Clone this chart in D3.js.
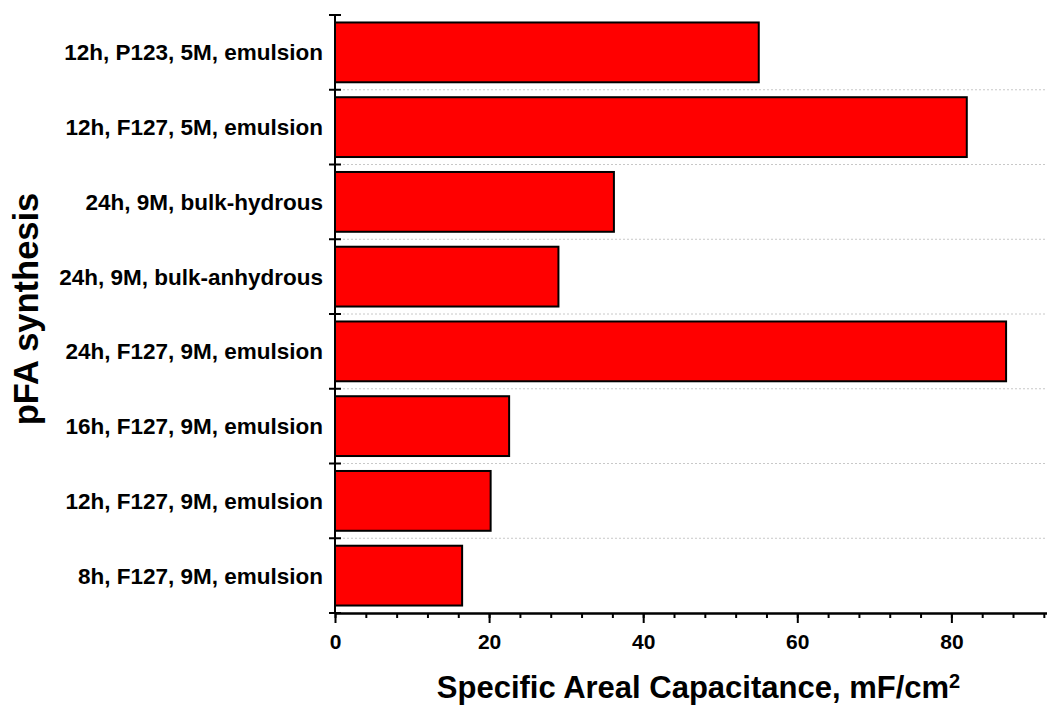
<!DOCTYPE html>
<html>
<head>
<meta charset="utf-8">
<script src="https://cdn.jsdelivr.net/npm/d3@7"></script>
<style>
  html, body { margin: 0; padding: 0; background: #fff; }
  svg { display: block; font-family: "Liberation Sans", Arial, Helvetica, sans-serif; font-weight: bold; }
</style>
</head>
<body>
<svg id="chart" width="1047" height="707"></svg>
<script>
// Synthesis conditions, listed top to bottom
const categories = [
  "12h, P123, 5M, emulsion",
  "12h, F127, 5M, emulsion",
  "24h, 9M, bulk-hydrous",
  "24h, 9M, bulk-anhydrous",
  "24h, F127, 9M, emulsion",
  "16h, F127, 9M, emulsion",
  "12h, F127, 9M, emulsion",
  "8h, F127, 9M, emulsion"
];
// Specific areal capacitance, mF/cm^2
const capacitance = [55.0, 82.0, 36.2, 29.0, 87.1, 22.6, 20.2, 16.5];
const majorTicks = [0, 20, 40, 60, 80];
const minorTicks = d3.range(0, 93, 4);
const xTitle = "Specific Areal Capacitance, mF/cm";
const xTitleSup = "2";
const yTitle = "pFA synthesis";

const svg = d3.select("#chart");
const plotLeft = 335, plotRight = 1050, plotTop = 15, plotBottom = 613;

const x = d3.scaleLinear().domain([0, 92.8]).range([plotLeft, plotRight]);
const y = d3.scaleBand().domain(categories).range([plotTop, plotBottom])
  .paddingInner(0.2).paddingOuter(0.1);
const step = y.step();

// band boundaries for the category ticks and grid
const boundaries = categories.map(c => y(c) - step * y.paddingInner() / 2);
boundaries.push(plotBottom);

// dotted grid between categories
svg.append("g").selectAll("line")
  .data(boundaries.slice(1, -1))
  .join("line")
  .attr("x1", plotLeft).attr("x2", 1047)
  .attr("y1", d => d).attr("y2", d => d)
  .attr("stroke", "#c8c8c8")
  .attr("stroke-width", 1)
  .attr("stroke-dasharray", "2,2");

// bars
svg.append("g").selectAll("rect")
  .data(categories)
  .join("rect")
  .attr("x", x(0))
  .attr("y", d => y(d))
  .attr("width", (d, i) => x(capacitance[i]) - x(0))
  .attr("height", y.bandwidth())
  .attr("fill", "#ff0000")
  .attr("stroke", "#000")
  .attr("stroke-width", 2);

// x axis: major ticks with labels, minor ticks without
const xAxisMinor = d3.axisBottom(x).tickValues(minorTicks).tickSize(5).tickFormat("").tickSizeOuter(0);
const xAxisMajor = d3.axisBottom(x).tickValues(majorTicks).tickSize(10).tickPadding(11).tickSizeOuter(0);
const gxMinor = svg.append("g").attr("transform", `translate(0,${plotBottom})`).call(xAxisMinor);
const gx = svg.append("g").attr("transform", `translate(0,${plotBottom})`).call(xAxisMajor);
[gxMinor, gx].forEach(g => {
  g.select(".domain").attr("stroke", "#000").attr("stroke-width", 2);
  g.selectAll(".tick line").attr("stroke", "#000").attr("stroke-width", 2);
});
gx.selectAll(".tick text")
  .attr("fill", "#000")
  .style("font-size", "21px")
  .style("font-weight", "bold");

// y axis line
svg.append("line")
  .attr("x1", plotLeft).attr("x2", plotLeft)
  .attr("y1", plotTop).attr("y2", plotBottom + 1)
  .attr("stroke", "#000").attr("stroke-width", 2);

// category ticks crossing the axis at band boundaries
svg.append("g").selectAll("line")
  .data(boundaries)
  .join("line")
  .attr("x1", plotLeft - 6).attr("x2", plotLeft + 6)
  .attr("y1", d => d).attr("y2", d => d)
  .attr("stroke", "#000").attr("stroke-width", 2);

// category labels
svg.append("g").selectAll("text")
  .data(categories)
  .join("text")
  .attr("x", plotLeft - 12)
  .attr("y", d => y(d) + y.bandwidth() / 2)
  .attr("dy", "0.35em")
  .attr("text-anchor", "end")
  .style("font-size", "22.5px")
  .text(d => d);

// axis titles
const xt = svg.append("text")
  .attr("x", (434 + 963) / 2)
  .attr("y", 698)
  .attr("text-anchor", "middle")
  .style("font-size", "31px");
xt.append("tspan").text(xTitle);
xt.append("tspan").attr("dy", "-0.5em").style("font-size", "20px").text(xTitleSup);

svg.append("text")
  .attr("transform", `translate(38,${(193 + 425) / 2}) rotate(-90)`)
  .attr("text-anchor", "middle")
  .style("font-size", "34.5px")
  .text(yTitle);
</script>
</body>
</html>
